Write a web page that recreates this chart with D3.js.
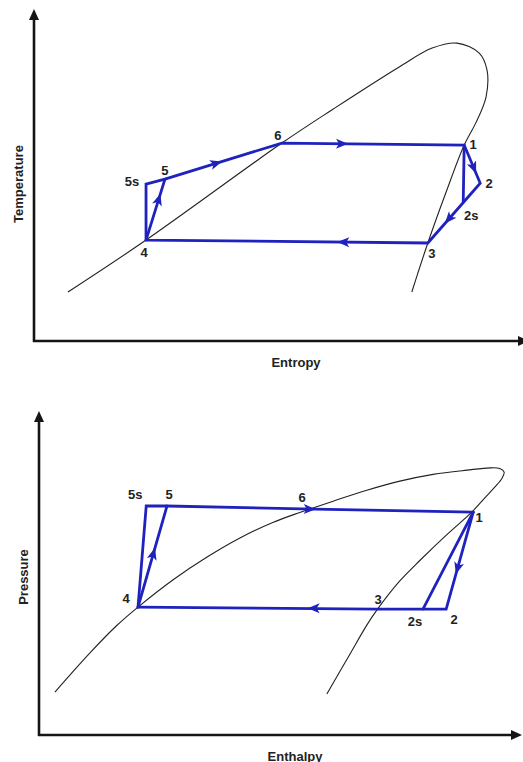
<!DOCTYPE html>
<html>
<head>
<meta charset="utf-8">
<script src="https://cdn.jsdelivr.net/npm/d3@7"></script>
<style>
  body { margin: 0; background: #fff; }
  text { font-family: "Liberation Sans", Arial, sans-serif; font-weight: bold; fill: #222; }
</style>
</head>
<body>
<svg id="chart" width="523" height="762"></svg>
<script>
// ---------- T-s diagram (entropy, temperature), arbitrary units 0..100 ----------
const tsDome = [
  [7.0, 14.8], [23.1, 30.5], [51.1, 59.8], [61.4, 69.8], [75.3, 82.8],
  [82.1, 88.5], [87.2, 90.0], [91.8, 87.0], [93.4, 81.9], [93.2, 73.7],
  [91.1, 65.9], [88.7, 59.2], [84.9, 44.7], [81.2, 29.6], [77.9, 14.8]
];
const tsStates = {
  "4": [23.1, 30.5], "5s": [23.1, 47.4], "5": [27.0, 48.9], "6": [51.1, 59.8],
  "1": [88.7, 59.2], "2": [92.0, 47.7], "2s": [88.5, 42.0], "3": [81.2, 29.6]
};
const tsPaths = [
  ["4", "5s", "5", "6", "1", "2", "3", "4"],
  ["1", "2s"],
  ["4", "5"]
];
const tsArrows = [
  ["5", "6", 0.44], ["6", "1", 0.33], ["1", "2", 0.6],
  ["2", "3", 0.6], ["3", "4", 0.3], ["4", "5", 0.67]
];

// ---------- P-h diagram (enthalpy, pressure), arbitrary units 0..100 ----------
const phDome = [
  [3.3, 13.3], [10.6, 25.5], [16.1, 33.9], [20.5, 39.6], [27.7, 48.0],
  [34.8, 55.1], [41.6, 61.0], [48.4, 65.8], [54.0, 68.9], [60.9, 72.4],
  [67.7, 75.7], [74.7, 78.6], [81.6, 80.7], [88.6, 82.0], [93.4, 82.7],
  [95.4, 82.5], [96.3, 81.4], [95.9, 79.6], [94.4, 76.8], [92.3, 73.4],
  [89.6, 69.0], [84.5, 62.1], [78.9, 54.1], [74.7, 47.7], [70.2, 39.2],
  [67.9, 34.1], [64.4, 25.1], [59.6, 12.7]
];
const phStates = {
  "4": [20.5, 39.6], "5s": [22.2, 70.9], "5": [26.5, 70.9], "6": [54.5, 70.0],
  "1": [89.9, 69.0], "2": [84.3, 39.0], "2s": [79.5, 39.0], "3": [70.0, 39.0]
};
const phPaths = [
  ["4", "5s", "5", "6", "1"],
  ["1", "2s"],
  ["1", "2", "2s", "3", "4"],
  ["4", "5"]
];
const phArrows = [
  ["5s", "1", 0.5], ["4", "5", 0.53], ["1", "2", 0.58], ["2", "4", 0.43]
];

const svg = d3.select("#chart");
const cycleBlue = "#1f22bd";
const axisInk = "#151515";

function drawDiagram(cfg) {
  const x = d3.scaleLinear().domain([0, 100]).range(cfg.xRange);
  const y = d3.scaleLinear().domain([0, 100]).range(cfg.yRange);
  const g = svg.append("g");

  // axes with arrowheads
  const ox = x(0), oy = y(0);
  g.append("line").attr("x1", ox).attr("y1", oy + 1).attr("x2", ox).attr("y2", cfg.yTip + 8)
    .attr("stroke", axisInk).attr("stroke-width", 2.6);
  g.append("line").attr("x1", ox - 1).attr("y1", oy).attr("x2", cfg.xTip - 8).attr("y2", oy)
    .attr("stroke", axisInk).attr("stroke-width", 2.6);
  g.append("path").attr("d", `M${ox},${cfg.yTip} L${ox - 5},${cfg.yTip + 11} L${ox + 5},${cfg.yTip + 11} Z`)
    .attr("fill", axisInk);
  g.append("path").attr("d", `M${cfg.xTip},${oy} L${cfg.xTip - 11},${oy - 5} L${cfg.xTip - 11},${oy + 5} Z`)
    .attr("fill", axisInk);

  // axis titles
  g.append("text").attr("x", cfg.xTitle[0]).attr("y", cfg.xTitle[1])
    .attr("text-anchor", "middle").attr("dominant-baseline", "central")
    .style("font-size", "13px").text(cfg.xLabel);
  g.append("text")
    .attr("transform", `translate(${cfg.yTitle[0]},${cfg.yTitle[1]}) rotate(-90)`)
    .attr("text-anchor", "middle").attr("dominant-baseline", "central")
    .style("font-size", "13px").text(cfg.yLabel);

  // saturation dome
  const domeLine = d3.line().x(d => x(d[0])).y(d => y(d[1])).curve(d3.curveCatmullRom.alpha(0.5));
  g.append("path").attr("d", domeLine(cfg.dome))
    .attr("fill", "none").attr("stroke", "#222").attr("stroke-width", 1.1);

  // cycle
  const cycleLine = d3.line().x(k => x(cfg.states[k][0])).y(k => y(cfg.states[k][1]));
  cfg.paths.forEach(p => {
    g.append("path").attr("d", cycleLine(p))
      .attr("fill", "none").attr("stroke", cycleBlue).attr("stroke-width", 2.8)
      .attr("stroke-linejoin", "miter").attr("stroke-linecap", "round");
  });

  // direction arrows along the cycle
  cfg.arrows.forEach(([a, b, t]) => {
    const ax = x(cfg.states[a][0]), ay = y(cfg.states[a][1]);
    const bx = x(cfg.states[b][0]), by = y(cfg.states[b][1]);
    const px = ax + (bx - ax) * t, py = ay + (by - ay) * t;
    const ang = Math.atan2(by - ay, bx - ax) * 180 / Math.PI;
    g.append("path").attr("d", "M6,0 L-6,-5 L-3,0 L-6,5 Z")
      .attr("transform", `translate(${px},${py}) rotate(${ang})`)
      .attr("fill", cycleBlue);
  });

  // state labels
  Object.entries(cfg.labelOffsets).forEach(([k, [dx, dy]]) => {
    g.append("text").attr("x", x(cfg.states[k][0]) + dx).attr("y", y(cfg.states[k][1]) + dy)
      .attr("text-anchor", "middle").attr("dominant-baseline", "central")
      .style("font-size", "13px").text(k);
  });
}

drawDiagram({
  xRange: [34, 519], yRange: [341, 10], xTip: 529, yTip: 9,
  xLabel: "Entropy", yLabel: "Temperature",
  xTitle: [296, 362], yTitle: [18, 184],
  dome: tsDome, states: tsStates, paths: tsPaths, arrows: tsArrows,
  labelOffsets: {
    "6": [-4, -8], "1": [9, -1], "2": [9, 0], "2s": [8, 14],
    "3": [4, 10], "4": [-2, 12], "5s": [-14, -3], "5": [0, -9]
  }
});

drawDiagram({
  xRange: [39, 522], yRange: [735, 412], xTip: 522, yTip: 411,
  xLabel: "Enthalpy", yLabel: "Pressure",
  xTitle: [295, 756], yTitle: [23, 577],
  dome: phDome, states: phStates, paths: phPaths, arrows: phArrows,
  labelOffsets: {
    "5s": [-11, -11], "5": [2, -11], "6": [0, -11], "1": [6, 5],
    "4": [-12, -9], "3": [1, -10], "2s": [-8, 12], "2": [8, 10]
  }
});
</script>
</body>
</html>
